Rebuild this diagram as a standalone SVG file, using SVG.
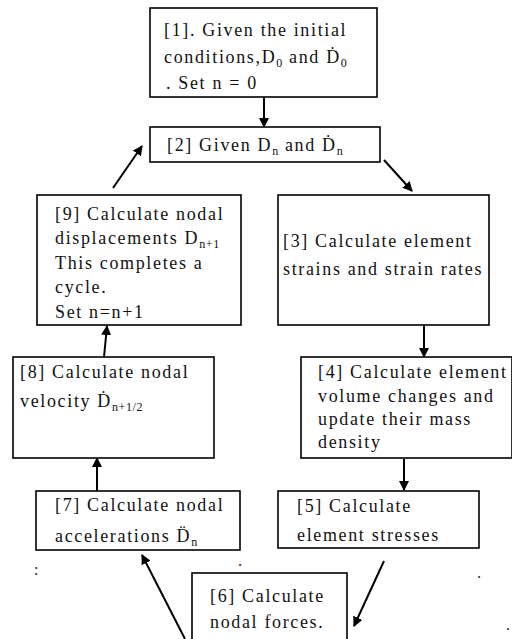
<svg xmlns="http://www.w3.org/2000/svg" width="512" height="639" viewBox="0 0 512 639">
<defs>
<style>
.box{fill:#fff;stroke:#000;stroke-width:1.6}
.t{font-family:"Liberation Serif","Times New Roman",serif;font-size:18px;letter-spacing:1.65px;fill:#111}
.s{font-size:12px;letter-spacing:0.6px}
.c{stroke:#000;stroke-width:2;fill:none;marker-end:url(#ah)}
.d{font-family:"Liberation Serif",serif;font-size:16px;fill:#222}
</style>
<marker id="ah" markerWidth="10" markerHeight="10" refX="9" refY="5" orient="auto" markerUnits="userSpaceOnUse">
<path d="M0,0 L10,5 L0,10 Z" fill="#000"/>
</marker>
</defs>
<rect width="512" height="639" fill="#fff"/>
<g id="connectors">
<line class="c" x1="264" y1="97" x2="264" y2="127"/>
<line class="c" x1="384" y1="160" x2="412" y2="191"/>
<line class="c" x1="424" y1="325" x2="424" y2="357"/>
<line class="c" x1="404" y1="459" x2="404" y2="490"/>
<line class="c" x1="384" y1="561" x2="354" y2="626"/>
<line class="c" x1="185" y1="639" x2="142" y2="555"/>
<line class="c" x1="97" y1="491" x2="97" y2="458"/>
<line class="c" x1="104" y1="357" x2="107" y2="326"/>
<line class="c" x1="113" y1="188" x2="142" y2="146"/>
</g>
<g id="n1">
<rect class="box" x="150" y="8" width="227" height="89"/>
<text class="t" x="164" y="36">[1]. Given the initial</text>
<text class="t" x="164" y="63">conditions,D<tspan class="s" dy="4">0</tspan><tspan dy="-4">  and Ḋ</tspan><tspan class="s" dy="4">0</tspan></text>
<text class="t" x="166" y="89">. Set n = 0</text>
</g>
<g id="n2">
<rect class="box" x="150" y="127" width="230" height="35"/>
<text class="t" x="167" y="151">[2] Given D<tspan class="s" dy="4">n</tspan><tspan dy="-4"> and Ḋ</tspan><tspan class="s" dy="4">n</tspan></text>
</g>
<g id="n3">
<rect class="box" x="278" y="195" width="211" height="130"/>
<text class="t" x="283" y="247">[3] Calculate element</text>
<text class="t" x="283" y="275">strains and strain rates</text>
</g>
<g id="n4">
<rect class="box" x="301" y="357" width="211" height="101"/>
<text class="t" x="318" y="378">[4] Calculate element</text>
<text class="t" x="318" y="402">volume changes and</text>
<text class="t" x="318" y="425">update their mass</text>
<text class="t" x="318" y="448">density</text>
</g>
<g id="n5">
<rect class="box" x="278" y="491" width="201" height="57"/>
<text class="t" x="297" y="512">[5] Calculate</text>
<text class="t" x="297" y="541">element stresses</text>
</g>
<g id="n6">
<rect class="box" x="192" y="573" width="155" height="70"/>
<text class="t" x="210" y="602">[6] Calculate</text>
<text class="t" x="210" y="628">nodal forces.</text>
</g>
<g id="n7">
<rect class="box" x="36" y="491" width="204" height="59"/>
<text class="t" x="55" y="511">[7] Calculate nodal</text>
<text class="t" x="55" y="542">accelerations D̈<tspan class="s" dy="4">n</tspan></text>
</g>
<g id="n8">
<rect class="box" x="13" y="357" width="201" height="101"/>
<text class="t" x="20" y="378">[8] Calculate nodal</text>
<text class="t" x="20" y="407">velocity Ḋ<tspan class="s" dy="4">n+1/2</tspan></text>
</g>
<g id="n9">
<rect class="box" x="37" y="195" width="204" height="130"/>
<text class="t" x="55" y="220">[9] Calculate nodal</text>
<text class="t" x="55" y="244">displacements  D<tspan class="s" dy="4">n+1</tspan></text>
<text class="t" x="55" y="269">This completes a</text>
<text class="t" x="55" y="293">cycle.</text>
<text class="t" x="55" y="318">Set n=n+1</text>
</g>
<g id="marks">
<text class="d" x="34" y="575">:</text>
<text class="d" x="238" y="566">.</text>
<text class="d" x="477" y="578">.</text>
<text class="d" x="506" y="630">.</text>
</g>
</svg>
